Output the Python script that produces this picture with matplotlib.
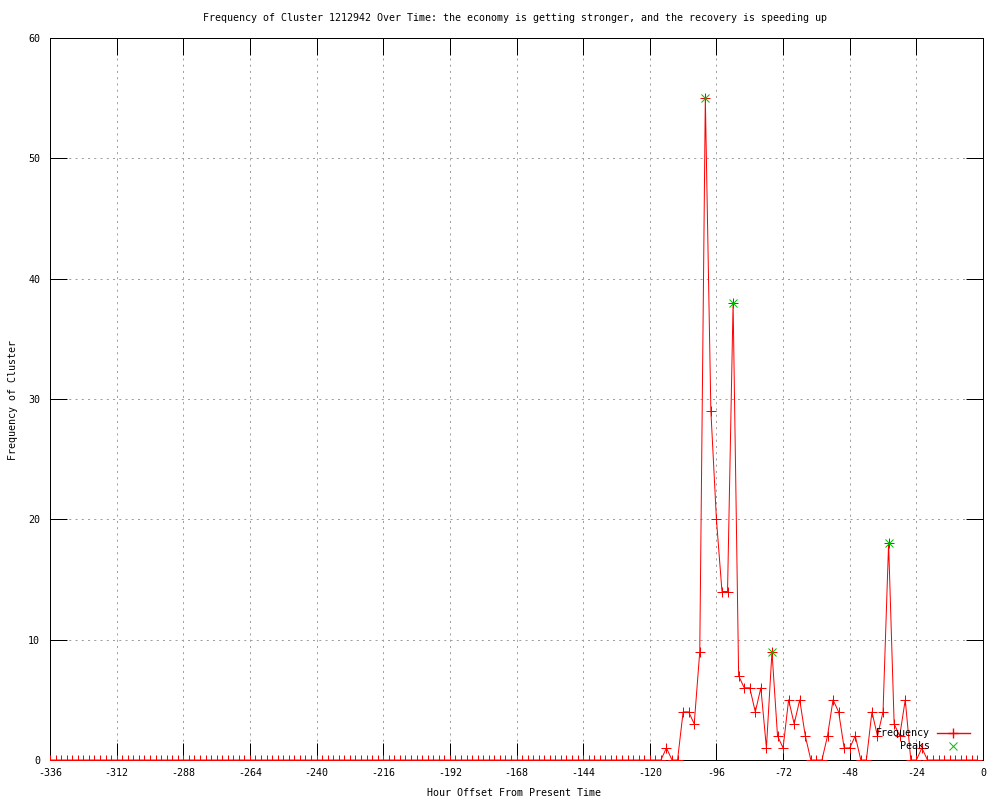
import matplotlib
matplotlib.use("Agg")
import matplotlib.pyplot as plt

# === Data ===
hours = list(range(-336, 0, 2))  # one sample every 2 hours

freq = [
    # -336 .. -116 (all zero)
    0, 0, 0, 0, 0, 0, 0, 0, 0, 0, 0, 0,
    0, 0, 0, 0, 0, 0, 0, 0, 0, 0, 0, 0,
    0, 0, 0, 0, 0, 0, 0, 0, 0, 0, 0, 0,
    0, 0, 0, 0, 0, 0, 0, 0, 0, 0, 0, 0,
    0, 0, 0, 0, 0, 0, 0, 0, 0, 0, 0, 0,
    0, 0, 0, 0, 0, 0, 0, 0, 0, 0, 0, 0,
    0, 0, 0, 0, 0, 0, 0, 0, 0, 0, 0, 0,
    0, 0, 0, 0, 0, 0, 0, 0, 0, 0, 0, 0,
    0, 0, 0, 0, 0, 0, 0, 0, 0, 0, 0, 0,
    0, 0, 0,
    # -114 .. -2
    1, 0, 0, 4, 4, 3, 9, 55, 29, 20, 14, 14,
    38, 7, 6, 6, 4, 6, 1, 9, 2, 1, 5, 3,
    5, 2, 0, 0, 0, 2, 5, 4, 1, 1, 2, 0,
    0, 4, 2, 4, 18, 3, 2, 5, 0, 0, 1, 0,
    0, 0, 0, 0, 0, 0, 0, 0, 0,
]

peak_hours = [-100, -90, -76, -34]
peak_vals = [55, 38, 9, 18]

x_ticks = list(range(-336, 1, 24))
y_ticks = list(range(0, 61, 10))

title = ("Frequency of Cluster 1212942 Over Time: the economy is getting "
         "stronger, and the recovery is speeding up")

# === Style ===
plt.rcParams["font.family"] = ["DejaVu Sans Mono"]
plt.rcParams["font.size"] = 7.2
plt.rcParams["axes.unicode_minus"] = False
plt.rcParams["lines.scale_dashes"] = False

RED = "#ff0000"
GREEN = "#00c000"
px = 0.72  # one pixel in points at dpi 100

fig = plt.figure(figsize=(10, 8), dpi=100)
ax = fig.add_axes([0.05, 0.05, 0.933, 0.9025])

# grid
ax.set_axisbelow(True)
ax.grid(True, color="#a0a0a0", linestyle=(0, (1.5, 3)), linewidth=px)

# data
ax.plot(hours, freq, color=RED, linewidth=px, marker="+",
        markersize=6.5, markeredgewidth=px, zorder=3)
ax.plot(peak_hours, peak_vals, linestyle="none", color=GREEN, marker="x",
        markersize=6, markeredgewidth=px, zorder=4)

ax.set_xlim(-336, 0)
ax.set_ylim(0, 60)
ax.set_xticks(x_ticks)
ax.set_yticks(y_ticks)
ax.tick_params(direction="in", length=12, width=px, top=True, right=True,
               labelsize=7.2)
ax.tick_params(axis="x", pad=6)
ax.tick_params(axis="y", pad=7)
for s in ax.spines.values():
    s.set_linewidth(px)

# labels
fig.text(0.515, 0.9775, title, ha="center", va="center", fontsize=7.2)
fig.text(0.514, 0.009, "Hour Offset From Present Time", ha="center",
         va="center", fontsize=7.2)
fig.text(0.013, 0.5, "Frequency of Cluster", rotation=90, ha="center",
         va="center", fontsize=7.2)

# gnuplot-style key, bottom right: text right aligned, sample on the right
ax.text(0.9432, 0.0374, "Frequency", transform=ax.transAxes, ha="right",
        va="center", fontsize=7.2, zorder=5)
ax.plot([0.9507, 0.9861], [0.0374, 0.0374], transform=ax.transAxes,
        color=RED, linewidth=1.0, clip_on=False, zorder=6)
ax.plot([0.9678], [0.0374], transform=ax.transAxes, color=RED, marker="+",
        markersize=6.5, markeredgewidth=1.0, clip_on=False, zorder=6)
ax.text(0.9432, 0.0194, "Peaks", transform=ax.transAxes, ha="right",
        va="center", fontsize=7.2, zorder=5)
ax.plot([0.9678], [0.0194], transform=ax.transAxes, color=GREEN, marker="x",
        markersize=6, markeredgewidth=px, clip_on=False, zorder=6)

fig.savefig("out.png", dpi=100)
